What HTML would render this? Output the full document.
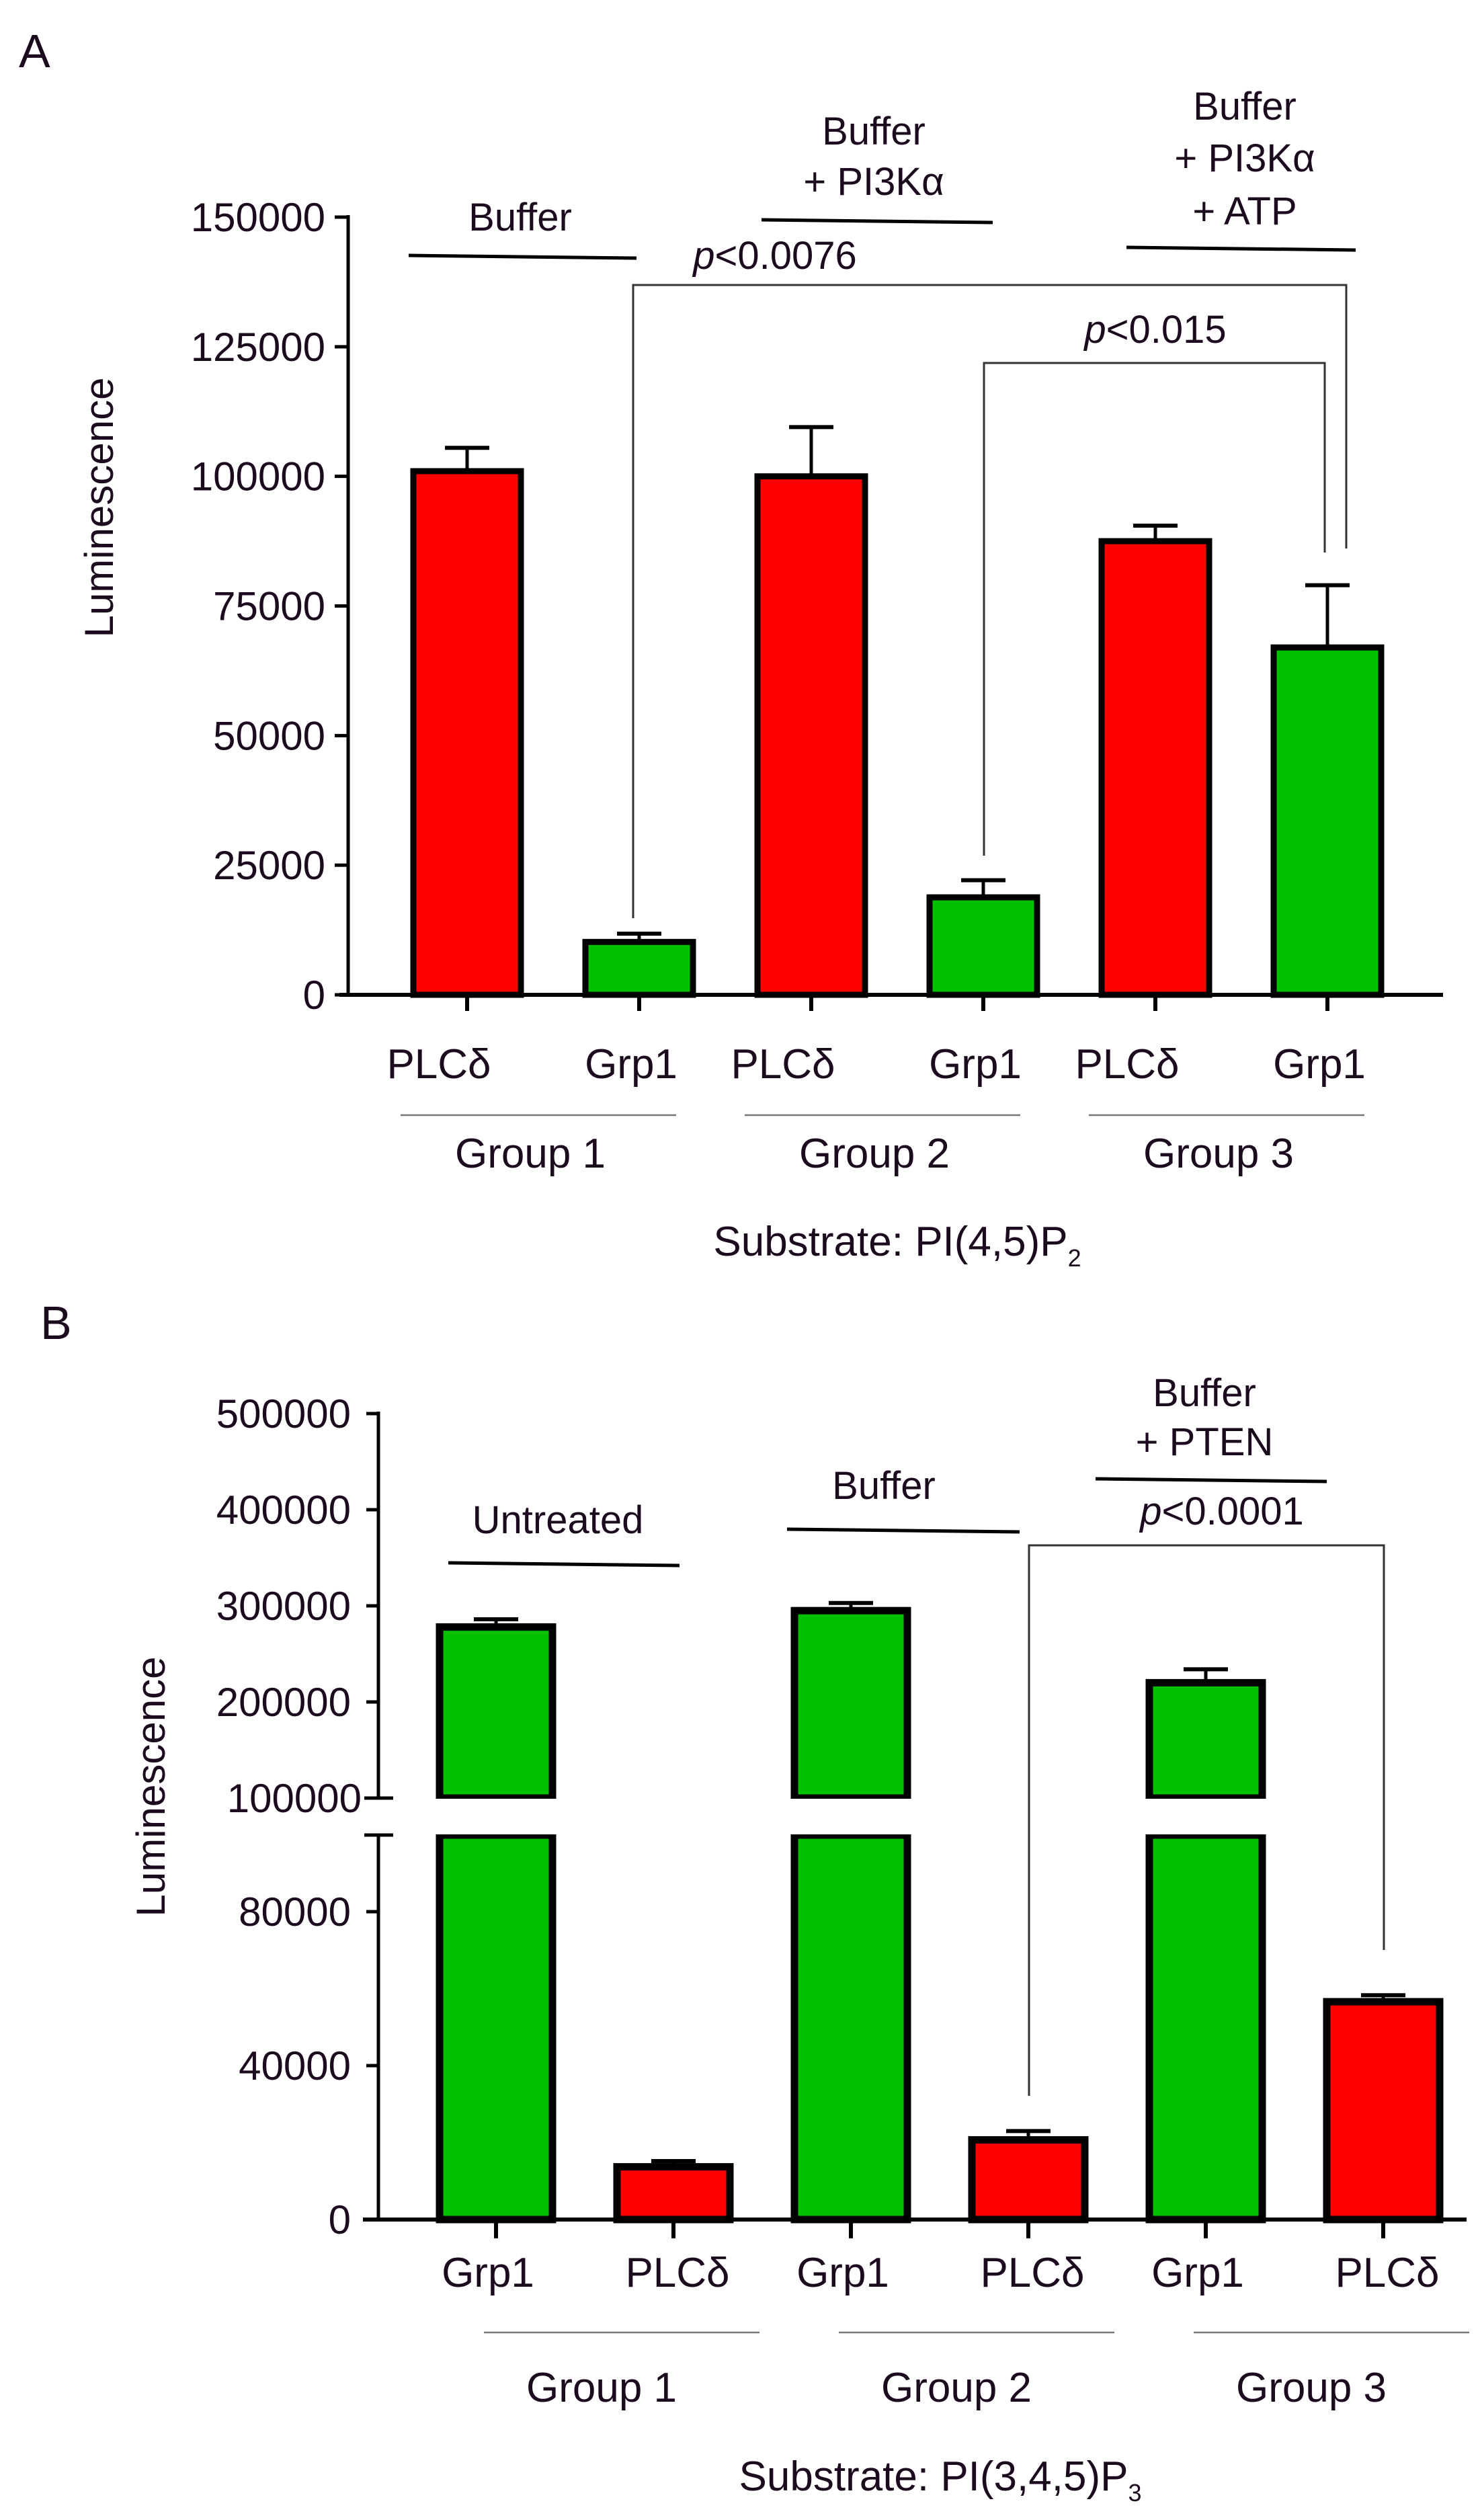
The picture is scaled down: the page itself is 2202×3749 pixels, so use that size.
<!DOCTYPE html>
<html><head><meta charset="utf-8"><style>
html,body{margin:0;padding:0;background:#fff}
svg{display:block}
text{font-family:"Liberation Sans",sans-serif;fill:#1c0a1e}
</style></head><body>
<svg id="fig" width="2202" height="3749" viewBox="0 0 2202 3749" xmlns="http://www.w3.org/2000/svg">
<g id="pa"></g>
<g id="pb"></g>
</svg>
<script>
// Panel A data
const aCategories = ["PLCδ","Grp1","PLCδ","Grp1","PLCδ","Grp1"];
const aValues = [101000, 10200, 100000, 18800, 87500, 67000];
const aErrors = [4500, 1600, 9500, 3300, 3000, 12000];
const aColors = ["#ff0000","#00c000","#ff0000","#00c000","#ff0000","#00c000"];
const aTicks = [0,25000,50000,75000,100000,125000,150000];
const aGroups = ["Group 1","Group 2","Group 3"];
// Panel B data
const bCategories = ["Grp1","PLCδ","Grp1","PLCδ","Grp1","PLCδ"];
const bValues = [278000, 13700, 295000, 20700, 220000, 56600];
const bErrors = [8000, 1500, 8000, 2300, 14000, 1700];
const bColors = ["#00c000","#ff0000","#00c000","#ff0000","#00c000","#ff0000"];
const bTicksLow = [0,40000,80000];
const bTicksHigh = [100000,200000,300000,400000,500000];
const bGroups = ["Group 1","Group 2","Group 3"];

const NS="http://www.w3.org/2000/svg";
function mk(parent,tag,attrs,txt){const e=document.createElementNS(NS,tag);for(const k in attrs)e.setAttribute(k,attrs[k]);if(txt!==undefined)e.textContent=txt;parent.appendChild(e);return e;}
function line(p,x1,y1,x2,y2,w,c){return mk(p,'line',{x1,y1,x2,y2,stroke:c||'#000','stroke-width':w});}
function txt(p,x,y,s,size,anchor){return mk(p,'text',{x,y,'font-size':size,'text-anchor':anchor||'middle'},s);}

// ---------- Panel A ----------
const pa=document.getElementById('pa');
const aY0=1480, aPx=1157/150000;
const ay=v=>aY0-v*aPx;
const aX=i=>695+i*256;
const aBW=160;
let t=txt(pa,28,100,'A',70,'start');


let ax=line(pa,518,ay(150000)-3,518,aY0,5);


aTicks.forEach(v=>{
  line(pa,498,ay(v),518,ay(v),5);
  const tl=txt(pa,484,ay(v)+21,String(v),60,'end');
  
  
});
let xa=line(pa,505,aY0,2147,aY0,6);


let yt=txt(pa,0,0,'Luminescence',60);
yt.setAttribute('transform','translate(168,755) rotate(-90)');


aValues.forEach((v,i)=>{
  const cx=aX(i);
  const eTop=ay(v+aErrors[i]);
  line(pa,cx,eTop,cx,ay(v),5);
  line(pa,cx-33,eTop,cx+33,eTop,6);
  const r=mk(pa,'rect',{x:cx-aBW/2,y:ay(v),width:aBW,height:aY0-ay(v),fill:aColors[i],stroke:'#000','stroke-width':9});
  
  
  line(pa,cx,aY0,cx,aY0+24,6);
  const cl=txt(pa,cx-(i%2?12:42),1604,aCategories[i],62);
  
  
});
aGroups.forEach((g,j)=>{
  const c=(aX(2*j)+aX(2*j+1))/2-22;
  line(pa,c-205,1659,c+205,1659,2.5,'#777');
  const gl=txt(pa,c-12,1737,g,62);
  
  
});
let sa=mk(pa,'text',{x:1335,y:1868,'font-size':62,'text-anchor':'middle'});
sa.innerHTML='Substrate: PI(4,5)P<tspan font-size="36" dy="16">2</tspan>';


function ann(p,lines,cx,ys,lx1,lx2,ly,name){
  lines.forEach((s,k)=>{const e=txt(p,cx,ys[k],s,58);});
  line(p,lx1,ly,lx2,ly+4,5);
}
ann(pa,['Buffer'],774,[343],608,947,380,'treatment-label-a1');
ann(pa,['Buffer','+ PI3Kα'],1300,[215,290],1133,1477,327,'treatment-label-a2');
ann(pa,['Buffer','+ PI3Kα','+ ATP'],1852,[178,255,334],1676,2017,368,'treatment-label-a3');
let b1=mk(pa,'polyline',{points:`942,1366 942,424 2003,424 2003,816`,fill:'none',stroke:'#333','stroke-width':3});


let p1=mk(pa,'text',{x:1153,y:400,'font-size':58,'text-anchor':'middle'});
p1.innerHTML='<tspan font-style="italic">p</tspan>&lt;0.0076';


let b2=mk(pa,'polyline',{points:`1464,1273 1464,540 1971,540 1971,822`,fill:'none',stroke:'#333','stroke-width':3});


let p2=mk(pa,'text',{x:1719,y:510,'font-size':58,'text-anchor':'middle'});
p2.innerHTML='<tspan font-style="italic">p</tspan>&lt;0.015';



// ---------- Panel B ----------
const pb=document.getElementById('pb');
const bY0=3302, bLowPx=458/80000, bBreakLo=2730, bBreakHi=2675, bHiPx=572/400000;
const by=v=> v<=90000 ? bY0-v*bLowPx : bBreakHi-(v-100000)*bHiPx;
const bX=i=>738+i*264;
const bBW=168;
t=txt(pb,60,1992,'B',70,'start');


let ayb1=line(pb,563,by(500000)-3,563,bBreakHi,5);


let ayb2=line(pb,563,bBreakLo,563,bY0,5);


line(pb,542,bBreakHi,585,bBreakHi,5);
line(pb,542,bBreakLo,585,bBreakLo,5);
bTicksHigh.forEach(v=>{
  if(v>100000) line(pb,545,by(v),563,by(v),5);
  const tl=txt(pb,v===100000?538:522,by(v)+21,String(v),60,'end');
  
  
});
bTicksLow.forEach(v=>{
  line(pb,545,by(v),563,by(v),5);
  const tl=txt(pb,522,by(v)+21,String(v),60,'end');
  
  
});
let xb=line(pb,540,bY0,2182,bY0,6);


yt=txt(pb,0,0,'Luminescence',60);
yt.setAttribute('transform','translate(245,2658) rotate(-90)');


bValues.forEach((v,i)=>{
  const cx=bX(i);
  const top=by(v), eTop=by(v+bErrors[i]);
  line(pb,cx,eTop,cx,top,5);
  line(pb,cx-33,eTop,cx+33,eTop,6);
  let r;
  if(v>100000){
    r=mk(pb,'g',{});
    mk(r,'rect',{x:cx-bBW/2,y:top,width:bBW,height:bBreakHi-top,fill:bColors[i],stroke:'#000','stroke-width':11});
    mk(r,'rect',{x:cx-bBW/2,y:bBreakLo,width:bBW,height:bY0-bBreakLo,fill:bColors[i],stroke:'#000','stroke-width':11});
    mk(r,'rect',{x:cx-bBW/2-8,y:bBreakHi+1,width:bBW+16,height:bBreakLo-bBreakHi-2,fill:'#fff'});
  } else {
    r=mk(pb,'rect',{x:cx-bBW/2,y:top,width:bBW,height:bY0-top,fill:bColors[i],stroke:'#000','stroke-width':11});
  }
  
  
  line(pb,cx,bY0,cx,bY0+28,6);
  const cl=txt(pb,cx+(i%2?6:-12),3402,bCategories[i],62);
  
  
});
bGroups.forEach((g,j)=>{
  const c=(bX(2*j)+bX(2*j+1))/2+55;
  line(pb,c-205,3470,c+205,3470,2.5,'#777');
  const gl=txt(pb,c-30,3573,g,62);
  
  
});
let sb=mk(pb,'text',{x:1399,y:3705,'font-size':62,'text-anchor':'middle'});
sb.innerHTML='Substrate: PI(3,4,5)P<tspan font-size="36" dy="16">3</tspan>';


ann(pb,['Untreated'],830,[2281],667,1011,2325,'treatment-label-b1');
ann(pb,['Buffer'],1315,[2230],1171,1517,2275,'treatment-label-b2');
ann(pb,['Buffer','+ PTEN'],1792,[2092,2165],1630,1974,2200,'treatment-label-b3');
let b3=mk(pb,'polyline',{points:`1531,3118 1531,2299 2059,2299 2059,2901`,fill:'none',stroke:'#333','stroke-width':3});


let p3=mk(pb,'text',{x:1818,y:2268,'font-size':58,'text-anchor':'middle'});
p3.innerHTML='<tspan font-style="italic">p</tspan>&lt;0.0001';


</script>
</body></html>
